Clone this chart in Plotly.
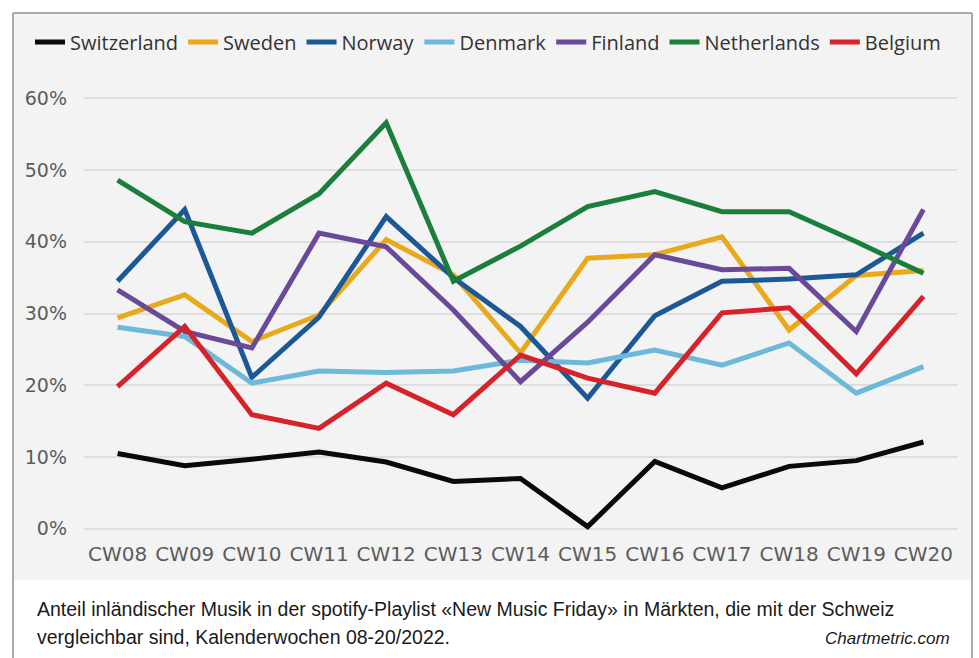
import plotly.graph_objects as go

# Calendar weeks 08-20/2022
weeks = ["CW08", "CW09", "CW10", "CW11", "CW12", "CW13", "CW14",
         "CW15", "CW16", "CW17", "CW18", "CW19", "CW20"]

# Share of domestic music in "New Music Friday" (percent)
switzerland = [10.5, 8.8, 9.7, 10.7, 9.3, 6.6, 7.0, 0.3, 9.4, 5.7, 8.7, 9.5, 12.1]
sweden      = [29.4, 32.6, 26.1, 29.8, 40.3, 35.4, 24.5, 37.7, 38.2, 40.7, 27.7, 35.3, 36.0]
norway      = [34.5, 44.5, 21.1, 29.5, 43.5, 35.0, 28.2, 18.2, 29.7, 34.5, 34.8, 35.4, 41.2]
denmark     = [28.1, 26.8, 20.3, 22.0, 21.8, 22.0, 23.5, 23.1, 24.9, 22.8, 25.9, 18.9, 22.6]
finland     = [33.3, 27.5, 25.2, 41.2, 39.3, 30.5, 20.5, 28.8, 38.2, 36.1, 36.3, 27.5, 44.5]
netherlands = [48.6, 42.8, 41.2, 46.7, 56.6, 34.5, 39.4, 44.9, 47.0, 44.2, 44.2, 40.0, 35.6]
belgium     = [19.8, 28.2, 15.9, 14.0, 20.3, 15.9, 24.2, 21.0, 18.9, 30.1, 30.8, 21.6, 32.4]

series = [
    ("Switzerland", switzerland, "#0a0a0a"),
    ("Sweden", sweden, "#e8aa1c"),
    ("Norway", norway, "#1c5896"),
    ("Denmark", denmark, "#6cb9d9"),
    ("Finland", finland, "#6a4998"),
    ("Netherlands", netherlands, "#1b7f3b"),
    ("Belgium", belgium, "#d6222a"),
]

y_ticks = [0, 10, 20, 30, 40, 50, 60]
y_tick_labels = ["0%", "10%", "20%", "30%", "40%", "50%", "60%"]

# Figure geometry (pixels)
W, H = 979, 658
L, R, T, B = 84, 22, 85, 118
PW, PH = W - L - R, H - T - B


def px_x(x):
    return (x - L) / PW


def px_y(y):
    return (H - B - y) / PH


fig = go.Figure()
for name, vals, color in series:
    fig.add_trace(go.Scatter(
        x=weeks, y=vals, name=name, mode="lines",
        line=dict(color=color, width=5),
    ))

# Grey card behind the chart, white caption strip below
fig.add_shape(type="rect", xref="paper", yref="paper", layer="below",
              x0=px_x(13), x1=px_x(972), y0=px_y(580), y1=px_y(13),
              fillcolor="#f3f3f3", line=dict(width=0))
for xs in (13, 972):
    fig.add_shape(type="line", xref="paper", yref="paper", layer="below",
                  x0=px_x(xs), x1=px_x(xs), y0=px_y(13), y1=px_y(660),
                  line=dict(color="#a9a9a9", width=2))
fig.add_shape(type="line", xref="paper", yref="paper", layer="below",
              x0=px_x(13), x1=px_x(972), y0=px_y(13), y1=px_y(13),
              line=dict(color="#a9a9a9", width=2))

caption_font = dict(family="Liberation Sans", size=19.5, color="#1a1a1a")
fig.add_annotation(
    text="Anteil inländischer Musik in der spotify-Playlist «New Music Friday» in Märkten, die mit der Schweiz",
    xref="paper", yref="paper", x=px_x(35), y=px_y(609),
    xanchor="left", yanchor="middle", showarrow=False, font=caption_font)
fig.add_annotation(
    text="vergleichbar sind, Kalenderwochen 08-20/2022.",
    xref="paper", yref="paper", x=px_x(35), y=px_y(637),
    xanchor="left", yanchor="middle", showarrow=False, font=caption_font)
fig.add_annotation(
    text="<i>Chartmetric.com</i>",
    xref="paper", yref="paper", x=px_x(952), y=px_y(638),
    xanchor="right", yanchor="middle", showarrow=False,
    font=dict(family="Liberation Sans", size=17, color="#1a1a1a"))

fig.update_layout(
    width=W, height=H,
    margin=dict(l=L, r=R, t=T, b=B, pad=0, autoexpand=False),
    paper_bgcolor="white",
    plot_bgcolor="rgba(0,0,0,0)",
    showlegend=True,
    legend=dict(
        orientation="h", xref="paper", x=px_x(30),
        yref="paper", y=px_y(42),
        xanchor="left", yanchor="middle",
        font=dict(family="Open Sans", size=20, color="#333333"),
        bgcolor="rgba(0,0,0,0)", itemwidth=30, tracegroupgap=0,
    ),
    xaxis=dict(
        type="category", range=[-0.5, 12.5], automargin=False,
        showgrid=False, zeroline=False, showline=False, ticks="",
        tickangle=0,
        tickfont=dict(family="DejaVu Sans", size=20, color="#5c5c5c"),
    ),
    yaxis=dict(
        range=[-1.56, 61.85], tickvals=y_ticks, ticktext=y_tick_labels,
        automargin=False,
        showgrid=True, gridcolor="#dedede", gridwidth=1.5,
        zeroline=False, showline=False, ticks="",
        ticklabelstandoff=16,
        tickfont=dict(family="DejaVu Sans", size=19, color="#5c5c5c"),
    ),
)

fig.write_html("out.html")
